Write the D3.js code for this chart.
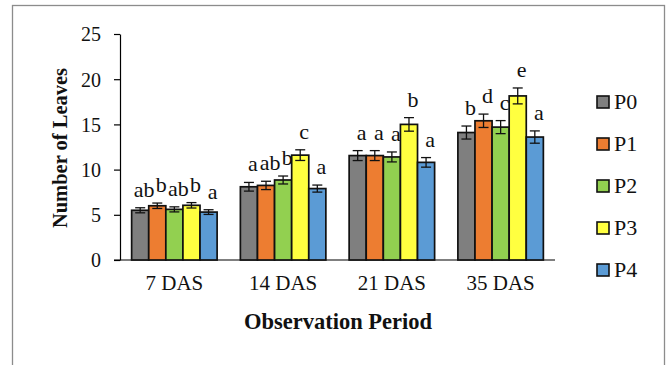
<!DOCTYPE html>
<html><head><meta charset="utf-8">
<script src="https://cdn.jsdelivr.net/npm/d3@7"></script>
<style>
body{margin:0;background:#fff;}
svg text{font-family:"Liberation Serif","DejaVu Serif",serif;fill:#111;}
</style></head>
<body><svg id="c" width="666" height="365"></svg>
<script>
const categories = ["7 DAS","14 DAS","21 DAS","35 DAS"];
const series = ["P0","P1","P2","P3","P4"];
const colors = ["#7f7f7f","#ed7d31","#92d050","#ffff40","#5b9bd5"];
const values = [
  [5.5, 8.1, 11.55, 14.1],   // P0
  [6.0, 8.25, 11.55, 15.4],  // P1
  [5.6, 8.85, 11.4, 14.7],   // P2
  [6.05, 11.6, 15.0, 18.15], // P3
  [5.3, 7.9, 10.8, 13.6]     // P4
];
const errors = [
  [0.28, 0.48, 0.55, 0.72],
  [0.3, 0.46, 0.55, 0.74],
  [0.28, 0.44, 0.55, 0.72],
  [0.3, 0.59, 0.75, 0.88],
  [0.26, 0.39, 0.53, 0.68]
];
const letters = [
  ["ab","a","a","b"],
  ["b","ab","a","d"],
  ["ab","b","a","c"],
  ["b","c","b","e"],
  ["a","a","a","a"]
];
const yTicks = [0,5,10,15,20,25];

const svg = d3.select("#c");
svg.append("rect").attr("x",12.5).attr("y",5.5).attr("width",652).attr("height",400)
  .attr("fill","none").attr("stroke","#8c8c8c").attr("stroke-width",1.3);

const pl=120, pr=555, pt=34, pb=260;
const y = d3.scaleLinear().domain([0,25]).range([pb,pt]);
const x0 = d3.scaleBand().domain(categories).range([pl,pr]).paddingInner(0.214).paddingOuter(0.107);
const x1 = d3.scaleBand().domain(series).range([0,x0.bandwidth()]);

// y axis
const ya = svg.append("g").attr("transform",`translate(${pl},0)`)
  .call(d3.axisLeft(y).tickValues(yTicks).tickSize(6).tickPadding(13).tickSizeOuter(0));
ya.selectAll("text").style("font-size","20px").attr("dy","0.34em");
ya.selectAll("line,path").attr("stroke","#000").attr("stroke-width",1.2);

// x axis
const xa = svg.append("g").attr("transform",`translate(0,${pb})`)
  .call(d3.axisBottom(x0).tickSize(0).tickPadding(15).tickSizeOuter(0));
xa.select("path").attr("d",`M${pl-6},0H${pr}`).attr("stroke","#000").attr("stroke-width",1.2);
xa.selectAll("text").style("font-size","21px");

// bars
const rows = [];
series.forEach((s,i)=>categories.forEach((c,j)=>rows.push({s,i,c,j,v:values[i][j],e:errors[i][j],l:letters[i][j]})));
const g = svg.append("g");
g.selectAll("rect").data(rows).join("rect")
  .attr("x",d=>x0(d.c)+x1(d.s)).attr("width",x1.bandwidth())
  .attr("y",d=>y(d.v)).attr("height",d=>y(0)-y(d.v))
  .attr("fill",d=>colors[d.i]).attr("stroke","#111").attr("stroke-width",1.7);

// error bars
const eb = svg.append("g").attr("stroke","#111").attr("stroke-width",1.3);
rows.forEach(d=>{
  const cx = x0(d.c)+x1(d.s)+x1.bandwidth()/2;
  eb.append("line").attr("x1",cx).attr("x2",cx).attr("y1",y(d.v+d.e)).attr("y2",y(d.v-d.e));
  eb.append("line").attr("x1",cx-5).attr("x2",cx+5).attr("y1",y(d.v+d.e)).attr("y2",y(d.v+d.e));
  eb.append("line").attr("x1",cx-5).attr("x2",cx+5).attr("y1",y(d.v-d.e)).attr("y2",y(d.v-d.e));
});

// letters
svg.append("g").selectAll("text").data(rows).join("text")
  .attr("x",d=>x0(d.c)+x1(d.s)+x1.bandwidth()/2+4)
  .attr("y",d=>y(d.v+d.e)-11)
  .attr("text-anchor","middle").style("font-size","22px").text(d=>d.l);

// axis titles
svg.append("text").attr("x",338).attr("y",329).attr("text-anchor","middle")
  .style("font-size","22.5px").style("font-weight","bold").text("Observation Period");
svg.append("text").attr("transform","translate(67,148) rotate(-90)").attr("text-anchor","middle")
  .style("font-size","20.5px").style("font-weight","bold").text("Number of Leaves");

// legend
const lg = svg.append("g");
series.forEach((s,i)=>{
  const cy = 102 + i*42;
  lg.append("rect").attr("x",597).attr("y",cy-6).attr("width",12).attr("height",12)
    .attr("fill",colors[i]).attr("stroke","#111").attr("stroke-width",1.6);
  lg.append("text").attr("x",614).attr("y",cy).attr("dy","0.34em").style("font-size","22px").text(s);
});
</script></body></html>
